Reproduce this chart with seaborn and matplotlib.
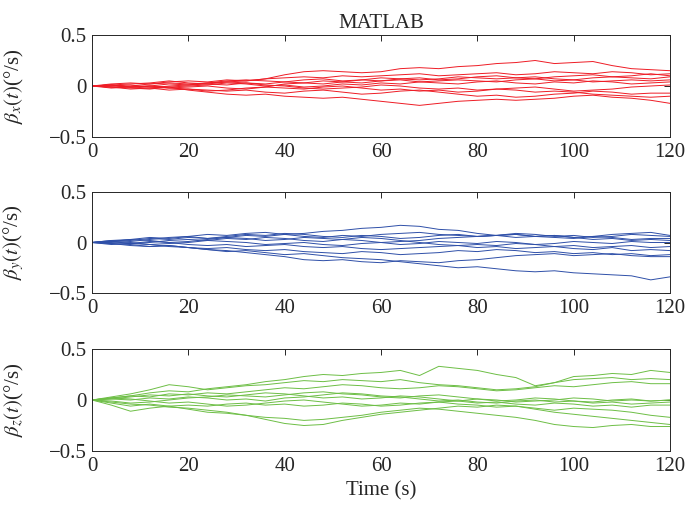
import numpy as np
import pandas as pd
import matplotlib
matplotlib.use("Agg")
import matplotlib.pyplot as plt
import seaborn as sns

# time grid (s) for the read-off points
time_s = list(range(0, 121, 4))

beta_x = [
    [0,0.01,-0.01,0.0,0.02,0.01,0.03,0.04,0.05,0.07,0.11,0.14,0.15,0.14,0.13,0.14,0.17,0.18,0.17,0.19,0.2,0.22,0.23,0.25,0.22,0.23,0.24,0.2,0.17,0.16,0.15],
    [0,-0.01,-0.02,-0.03,-0.01,-0.04,-0.06,-0.08,-0.09,-0.08,-0.1,-0.11,-0.12,-0.11,-0.13,-0.15,-0.17,-0.19,-0.17,-0.15,-0.14,-0.13,-0.14,-0.13,-0.12,-0.1,-0.09,-0.11,-0.12,-0.14,-0.17],
    [0,0.01,-0.01,0.0,-0.02,-0.03,-0.04,-0.05,-0.04,-0.06,-0.07,-0.05,-0.04,-0.06,-0.08,-0.07,-0.05,-0.04,-0.06,-0.08,-0.1,-0.09,-0.11,-0.1,-0.08,-0.07,-0.05,-0.06,-0.08,-0.07,-0.07],
    [0,0.02,0.03,0.02,0.04,0.05,0.04,0.06,0.05,0.07,0.08,0.09,0.08,0.1,0.09,0.1,0.11,0.12,0.1,0.11,0.12,0.13,0.11,0.12,0.14,0.13,0.12,0.14,0.13,0.11,0.12],
    [0,-0.01,0.0,0.02,0.03,0.02,0.03,0.05,0.06,0.05,0.04,0.06,0.07,0.05,0.06,0.08,0.07,0.06,0.07,0.09,0.08,0.07,0.08,0.09,0.07,0.06,0.08,0.09,0.08,0.07,0.09],
    [0,0.01,-0.01,-0.02,0.0,0.01,0.02,0.01,0.03,0.02,0.04,0.03,0.05,0.04,0.03,0.05,0.06,0.04,0.05,0.06,0.05,0.04,0.06,0.07,0.05,0.06,0.04,0.05,0.06,0.05,0.06],
    [0,-0.02,-0.01,0.0,-0.01,0.0,0.01,0.03,0.02,0.0,0.01,-0.01,0.0,0.02,0.01,0.03,0.02,0.04,0.03,0.02,0.04,0.05,0.03,0.02,0.04,0.03,0.05,0.04,0.02,0.03,0.04],
    [0,0.01,0.02,0.03,0.05,0.03,0.02,0.04,0.03,0.01,0.0,-0.02,-0.03,-0.02,-0.01,0.01,0.0,-0.02,-0.03,-0.02,-0.04,-0.03,-0.02,-0.01,-0.03,-0.05,-0.04,-0.03,-0.01,0.0,0.01],
    [0,-0.01,-0.03,-0.02,-0.04,-0.03,-0.05,-0.04,-0.02,-0.01,0.02,0.03,0.02,0.04,0.06,0.05,0.07,0.08,0.06,0.07,0.09,0.1,0.08,0.07,0.09,0.1,0.11,0.09,0.1,0.12,0.1],
    [0,0.0,0.01,-0.01,-0.02,-0.01,0.0,-0.02,-0.03,-0.01,-0.02,-0.03,-0.01,0.0,-0.02,-0.04,-0.03,-0.05,-0.04,-0.06,-0.05,-0.03,-0.04,-0.06,-0.05,-0.06,-0.08,-0.09,-0.1,-0.11,-0.1],
]

beta_y = [
    [0,0.01,0.03,0.05,0.04,0.06,0.08,0.07,0.09,0.1,0.08,0.09,0.11,0.12,0.14,0.15,0.17,0.16,0.13,0.12,0.09,0.07,0.08,0.06,0.07,0.05,0.06,0.08,0.09,0.1,0.07],
    [0,-0.01,-0.02,-0.04,-0.03,-0.05,-0.07,-0.09,-0.08,-0.1,-0.12,-0.11,-0.13,-0.15,-0.16,-0.17,-0.19,-0.21,-0.23,-0.25,-0.24,-0.26,-0.28,-0.29,-0.28,-0.3,-0.31,-0.32,-0.33,-0.37,-0.34],
    [0,0.01,-0.01,-0.02,-0.04,-0.05,-0.07,-0.08,-0.1,-0.12,-0.14,-0.17,-0.18,-0.17,-0.19,-0.2,-0.18,-0.19,-0.2,-0.18,-0.17,-0.15,-0.13,-0.12,-0.11,-0.13,-0.12,-0.11,-0.13,-0.14,-0.14],
    [0,0.02,0.01,0.03,0.05,0.06,0.04,0.05,0.07,0.06,0.08,0.06,0.05,0.07,0.06,0.08,0.09,0.1,0.08,0.07,0.06,0.07,0.08,0.06,0.05,0.04,0.06,0.05,0.03,0.04,0.04],
    [0,-0.02,-0.01,0.0,0.02,0.03,0.02,0.04,0.03,0.05,0.04,0.02,0.01,0.03,0.02,0.0,0.01,0.02,0.04,0.05,0.06,0.07,0.05,0.06,0.07,0.05,0.03,0.04,0.02,0.03,0.02],
    [0,0.01,0.0,-0.02,-0.01,0.0,0.02,0.01,0.0,-0.02,-0.01,0.0,-0.02,-0.03,-0.01,0.0,-0.02,-0.01,0.01,0.0,-0.01,0.01,0.0,-0.02,-0.01,0.01,0.0,-0.01,0.01,0.0,0.0],
    [0,-0.01,-0.03,-0.04,-0.03,-0.05,-0.06,-0.05,-0.07,-0.08,-0.07,-0.09,-0.1,-0.11,-0.09,-0.1,-0.12,-0.11,-0.1,-0.08,-0.09,-0.07,-0.08,-0.1,-0.09,-0.11,-0.1,-0.12,-0.11,-0.13,-0.12],
    [0,0.02,0.03,0.02,0.0,0.01,0.03,0.05,0.04,0.02,0.03,0.05,0.04,0.03,0.05,0.04,0.02,0.0,-0.02,-0.03,-0.05,-0.04,-0.06,-0.05,-0.04,-0.06,-0.07,-0.05,-0.08,-0.07,-0.08],
    [0,0.0,-0.01,0.01,0.0,-0.02,-0.03,-0.02,-0.04,-0.03,-0.02,-0.04,-0.05,-0.04,-0.06,-0.07,-0.06,-0.05,-0.04,-0.03,-0.02,-0.03,-0.01,-0.02,-0.04,-0.03,-0.05,-0.04,-0.03,-0.05,-0.04],
    [0,0.01,0.02,0.04,0.03,0.05,0.04,0.06,0.08,0.07,0.09,0.08,0.06,0.05,0.07,0.06,0.04,0.05,0.07,0.08,0.06,0.07,0.09,0.08,0.06,0.07,0.05,0.06,0.08,0.07,0.06],
]

beta_z = [
    [0,0.02,0.04,0.07,0.09,0.08,0.11,0.13,0.15,0.18,0.2,0.23,0.25,0.24,0.26,0.27,0.29,0.24,0.33,0.31,0.29,0.25,0.22,0.14,0.17,0.23,0.24,0.26,0.25,0.29,0.27],
    [0,0.03,0.06,0.1,0.15,0.13,0.1,0.12,0.14,0.15,0.17,0.19,0.18,0.2,0.19,0.18,0.2,0.17,0.15,0.14,0.12,0.1,0.11,0.13,0.17,0.2,0.21,0.22,0.2,0.21,0.2],
    [0,0.02,0.04,0.03,0.06,0.05,0.07,0.06,0.08,0.1,0.12,0.11,0.13,0.15,0.14,0.12,0.11,0.12,0.14,0.13,0.11,0.09,0.1,0.12,0.14,0.13,0.15,0.17,0.18,0.16,0.16],
    [0,-0.02,-0.04,-0.05,-0.07,-0.08,-0.1,-0.12,-0.15,-0.19,-0.23,-0.25,-0.24,-0.2,-0.17,-0.14,-0.12,-0.1,-0.08,-0.06,-0.07,-0.05,-0.06,-0.08,-0.1,-0.08,-0.09,-0.1,-0.12,-0.15,-0.17],
    [0,-0.03,-0.06,-0.04,-0.06,-0.09,-0.12,-0.13,-0.15,-0.17,-0.18,-0.2,-0.19,-0.17,-0.15,-0.12,-0.1,-0.08,-0.09,-0.11,-0.13,-0.15,-0.17,-0.2,-0.24,-0.26,-0.27,-0.25,-0.24,-0.26,-0.26],
    [0,-0.05,-0.11,-0.08,-0.06,-0.05,-0.06,-0.04,-0.03,-0.05,-0.04,-0.06,-0.05,-0.03,-0.04,-0.06,-0.05,-0.03,-0.02,-0.04,-0.05,-0.07,-0.06,-0.09,-0.12,-0.14,-0.16,-0.18,-0.2,-0.22,-0.24],
    [0,0.01,0.0,0.02,0.01,0.03,0.02,0.0,0.01,-0.01,0.02,0.03,0.05,0.07,0.06,0.04,0.03,0.01,-0.01,0.0,-0.02,-0.03,-0.01,0.0,-0.02,-0.01,-0.03,-0.02,-0.04,-0.03,-0.02],
    [0,0.02,0.01,-0.01,-0.03,-0.02,-0.04,-0.06,-0.05,-0.03,-0.01,0.0,-0.02,-0.04,-0.06,-0.05,-0.03,-0.04,-0.02,-0.01,0.01,0.0,-0.02,-0.01,0.0,0.02,0.01,-0.01,0.0,-0.01,0.0],
    [0,0.01,0.03,0.05,0.04,0.06,0.04,0.03,0.05,0.07,0.06,0.04,0.02,0.03,0.01,0.02,0.04,0.03,0.01,-0.01,-0.03,-0.02,-0.04,-0.05,-0.03,-0.04,-0.06,-0.05,-0.07,-0.05,-0.05],
    [0,-0.01,-0.03,-0.02,0.0,0.02,0.03,0.05,0.04,0.03,0.05,0.07,0.08,0.06,0.05,0.03,0.02,0.04,0.05,0.03,0.01,-0.01,0.0,0.02,0.01,-0.01,-0.02,0.0,0.01,-0.01,0.0],
]

panel_labels = [r'$\beta_x(t)$(°/s)', r'$\beta_y(t)$(°/s)', r'$\beta_z(t)$(°/s)']
panel_colors = ['#EE1C25', '#2E4FA8', '#6DBE45']
x_ticks = [0, 20, 40, 60, 80, 100, 120]
y_ticks = [-0.5, 0, 0.5]
y_tick_labels = ['\u22120.5', '0', '0.5']
title_text = 'MATLAB'
x_label = 'Time (s)'

sns.set_style("white")
plt.rcParams['font.family'] = ['Liberation Serif', 'DejaVu Serif']
plt.rcParams['mathtext.fontset'] = 'stix'
plt.rcParams['font.size'] = 15

fig = plt.figure(figsize=(6.86, 5.14), dpi=100)
W, H = 686, 514
left, right = 92 / W, 670 / W
boxes = [(35, 137), (192, 293), (349, 451)]

for i, (series, lab, col) in enumerate(zip([beta_x, beta_y, beta_z], panel_labels, panel_colors)):
    top_px, bot_px = boxes[i]
    ax = fig.add_axes([left, 1 - bot_px / H, right - left, (bot_px - top_px) / H])
    rows = []
    for run, vals in enumerate(series):
        for t, v in zip(time_s, vals):
            rows.append((run, t, v))
    df = pd.DataFrame(rows, columns=['run', 't', 'v'])
    sns.lineplot(data=df, x='t', y='v', units='run', estimator=None,
                 color=col, lw=0.7, ax=ax, legend=False)
    ax.set_xlim(0, 120)
    ax.set_ylim(-0.5, 0.5)
    ax.set_xticks(x_ticks)
    ax.set_xticklabels([str(v) for v in x_ticks])
    ax.set_yticks(y_ticks)
    ax.set_yticklabels(y_tick_labels)
    ax.tick_params(direction='in', top=True, right=True, length=4, width=0.7,
                   labelsize=15, colors='#262626', pad=4)
    for s in ax.spines.values():
        s.set_linewidth(0.7)
        s.set_color('#262626')
    ax.set_ylabel(lab, fontsize=15)
    ax.yaxis.set_label_coords(-0.115, 0.5)
    ax.set_xlabel('')
    if i == 0:
        ax.set_title(title_text, fontsize=15, pad=5)
    if i == 2:
        ax.set_xlabel(x_label, fontsize=15, labelpad=4)

fig.savefig('out.png', dpi=100)
